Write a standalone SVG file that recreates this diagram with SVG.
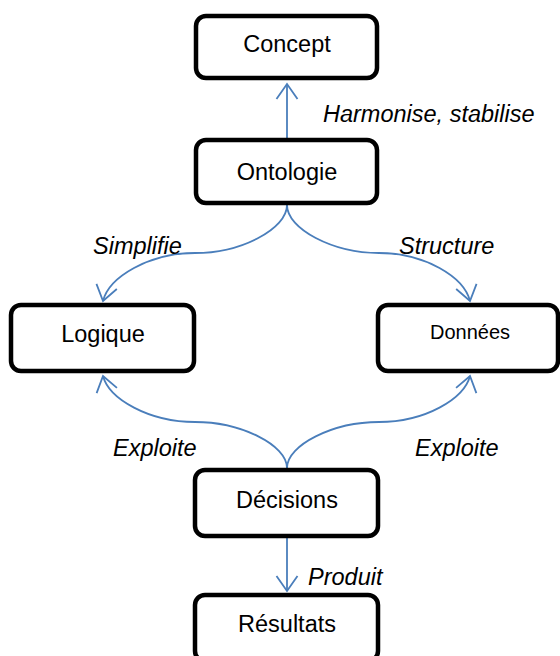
<svg xmlns="http://www.w3.org/2000/svg" width="560" height="656" viewBox="0 0 560 656">
  <style>
    .box { fill: #ffffff; stroke: #000000; stroke-width: 4.5; }
    .lbl { font-family: "Liberation Sans", Arial, sans-serif; font-size: 23.5px; fill: #000000; text-anchor: middle; }
    .small { font-size: 20px; }
    .edge { fill: none; stroke: #4A7EBB; stroke-width: 1.8; }
    .elbl { font-family: "Liberation Sans", Arial, sans-serif; font-size: 23.5px; font-style: italic; fill: #000000; }
  </style>
  <defs>
    <marker id="vhead" viewBox="-17 -12 19 24" markerWidth="19" markerHeight="24" refX="0" refY="0" markerUnits="userSpaceOnUse" orient="auto" overflow="visible">
      <path d="M-15,-10.5 L0,0 L-15,10.5" fill="none" stroke="#4A7EBB" stroke-width="1.8"/>
    </marker>
  </defs>
  <rect width="560" height="656" fill="#ffffff"/>

  <!-- connectors -->
  <g id="connectors">
    <path class="edge" d="M287,138 L287,84" marker-end="url(#vhead)"/>
    <path class="edge" d="M287,205 C287,229 241,253 195,253 C149,253 109,277 103,301" marker-end="url(#vhead)"/>
    <path class="edge" d="M287,205 C287,229 333,253 379,253 C425,253 464,277 470,301" marker-end="url(#vhead)"/>
    <path class="edge" d="M287,468 C287,445 241,422 195,422 C149,422 109,399 103,376" marker-end="url(#vhead)"/>
    <path class="edge" d="M287,468 C287,445 333,422 379,422 C425,422 464,399 470,376" marker-end="url(#vhead)"/>
    <path class="edge" d="M287,538 L287,591" marker-end="url(#vhead)"/>
    <text class="elbl" x="323" y="122">Harmonise, stabilise</text>
    <text class="elbl" x="93" y="254">Simplifie</text>
    <text class="elbl" x="399" y="254">Structure</text>
    <text class="elbl" x="113" y="456">Exploite</text>
    <text class="elbl" x="415" y="456">Exploite</text>
    <text class="elbl" x="308" y="585">Produit</text>
  </g>

  <g id="concept">
    <rect class="box" x="196" y="16" width="181" height="62" rx="10"/>
    <text class="lbl" x="287" y="52">Concept</text>
  </g>
  <g id="ontologie">
    <rect class="box" x="196" y="140" width="181" height="63" rx="10"/>
    <text class="lbl" x="287" y="180">Ontologie</text>
  </g>
  <g id="logique">
    <rect class="box" x="11" y="305" width="183" height="66" rx="10"/>
    <text class="lbl" x="103" y="342">Logique</text>
  </g>
  <g id="donnees">
    <rect class="box" x="378" y="305" width="180" height="66" rx="10"/>
    <text class="lbl small" x="470" y="339">Données</text>
  </g>
  <g id="decisions">
    <rect class="box" x="195" y="470" width="183" height="66" rx="10"/>
    <text class="lbl" x="287" y="508">Décisions</text>
  </g>
  <g id="resultats">
    <rect class="box" x="195" y="595" width="183" height="66" rx="10"/>
    <text class="lbl" x="287" y="632">Résultats</text>
  </g>
</svg>
